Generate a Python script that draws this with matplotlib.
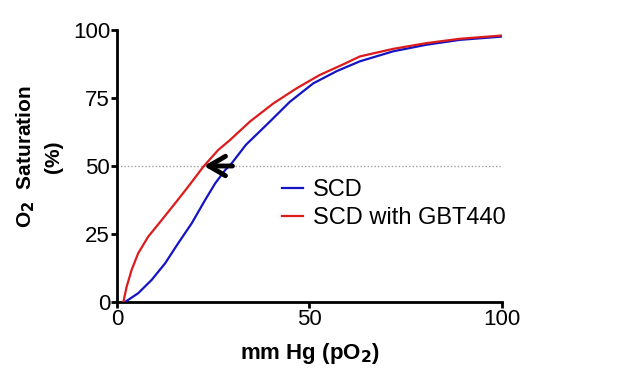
import matplotlib
matplotlib.use("Agg")
import matplotlib.pyplot as plt

plt.rcParams['font.family'] = ['Liberation Sans', 'DejaVu Sans']

# Data
red_x = [1.65, 2.5, 3.8, 5.5, 8.1, 11.6, 15.1, 18.5, 22.4, 26.3, 29.4, 34.5, 40.6,
         46.7, 52.7, 58.8, 63.1, 71.8, 80.4, 89.1, 100]
red_y = [0, 5.6, 11.8, 17.9, 24, 30.1, 36.3, 42.4, 49.7, 55.9, 59.6, 66.3, 73,
         78.6, 83.5, 87.4, 90.3, 93.1, 95.2, 96.8, 98]
blue_x = [2.1, 5.5, 9, 12.5, 15.9, 19.4, 22.9, 25.5, 28.1, 29.8, 33.5, 39.7, 44.9,
          51, 57.1, 63.1, 71.8, 80.4, 89.1, 100]
blue_y = [0, 3.2, 8.1, 14.2, 21.6, 28.9, 37.5, 43.6, 48.5, 51, 57.8, 66.3, 73.6,
          80.4, 84.9, 88.5, 92.2, 94.6, 96.4, 97.6]
series_names = ["SCD", "SCD with GBT440"]
x_ticks = [0, 50, 100]
y_ticks = [0, 25, 50, 75, 100]
p50_level = 50
arrow_from = (30, 50)
arrow_to = (22.6, 50)

fig = plt.figure(figsize=(6.36, 3.76), dpi=100)
ax = fig.add_axes([0.184, 0.197, 0.605, 0.723])

ax.plot(blue_x, blue_y, color='#1414C4', lw=1.6, label=series_names[0], zorder=3,
        solid_joinstyle='round')
ax.plot(red_x, red_y, color='#DC1C1C', lw=1.6, label=series_names[1], zorder=3,
        solid_joinstyle='round')
ax.plot([0, 100], [p50_level, p50_level], color='#a0a0a0', lw=1.0, ls=(0, (1, 1.5)), zorder=1)

ax.annotate('', xy=arrow_to, xytext=arrow_from,
            arrowprops=dict(arrowstyle='->,head_length=0.6,head_width=0.35',
                            mutation_scale=20, color='black', lw=3.5,
                            shrinkA=0, shrinkB=0), zorder=4)

ax.set_xlim(0, 100)
ax.set_ylim(0, 100)
ax.set_xticks(x_ticks)
ax.set_yticks(y_ticks)
for s in ['top', 'right']:
    ax.spines[s].set_visible(False)
for s in ['left', 'bottom']:
    ax.spines[s].set_linewidth(2.0)
ax.tick_params(axis='both', direction='out', length=4, width=2.0, labelsize=16, pad=1)

ax.set_xlabel('mm Hg (pO$_\\mathbf{2}$)', fontsize=16, fontweight='bold', labelpad=8)
ax.set_ylabel('O$_\\mathbf{2}$  Saturation\n(%)', fontsize=15, fontweight='bold',
              linespacing=1.45)
ax.yaxis.set_label_coords(-0.14, 0.535)

leg = ax.legend(loc='upper left', bbox_to_anchor=(0.43, 0.452), frameon=False,
                fontsize=17, handlelength=0.85, handletextpad=0.45, labelspacing=0.25,
                borderpad=0, borderaxespad=0)

fig.savefig('out.png', dpi=100)
